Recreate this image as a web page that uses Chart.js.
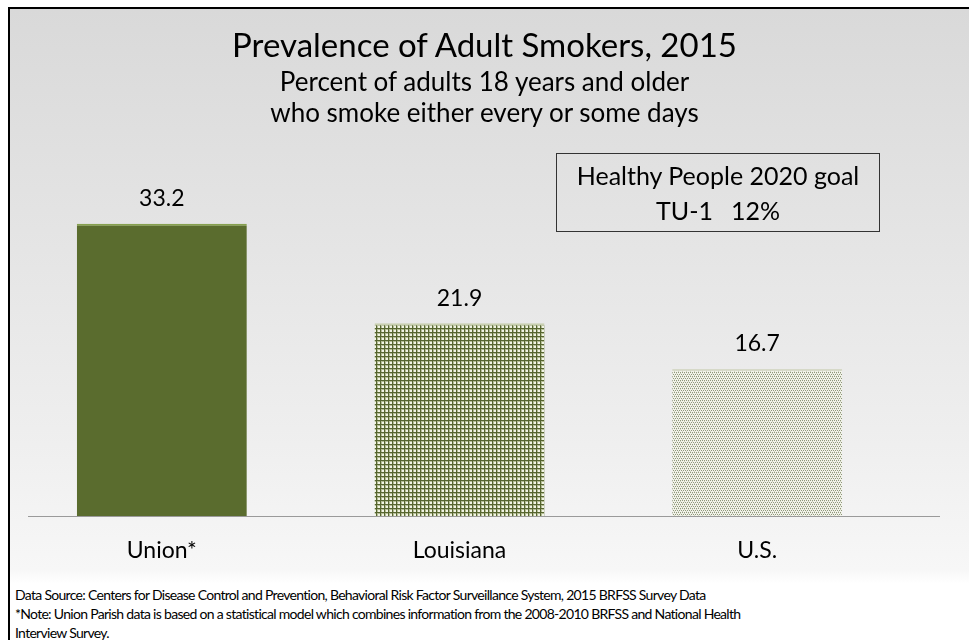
<!DOCTYPE html>
<html>
<head>
<meta charset="utf-8">
<script src="https://cdn.jsdelivr.net/npm/chart.js@4"></script>
<style>
    html, body { margin: 0; padding: 0; background: #ffffff; }
    body { width: 969px; height: 640px; position: relative; overflow: hidden; font-family: Lato, "Open Sans", sans-serif; color: #000; }
    #frame {
        position: absolute; left: 8px; top: 7px; width: 961px; height: 640px;
        border-left: 2px solid #000; border-top: 2px solid #000;
        background: linear-gradient(to bottom, #d9d9d9 0px, #eeeeee 420px, #f7f7f7 560px, #ffffff 575px, #ffffff 640px);
    }
    #chart_container { position: absolute; left: 0; top: 0; width: 969px; height: 570px; }
    .title { position: absolute; left: 0; width: 969px; text-align: center; white-space: nowrap; line-height: 1.2; }
    #title { top: 25px; font-size: 33px; }
    #sub1 { top: 66px; font-size: 26px; }
    #sub2 { top: 97px; font-size: 26px; }
    #goal_box {
        position: absolute; left: 556px; top: 153px; width: 322px;
        border: 1px solid #333; text-align: center; font-size: 25px; line-height: 35px;
        box-sizing: content-box; padding-top: 4px; height: 73px;
    }
    #goal_box .pct { margin-left: 18px; }
    #notes { position: absolute; left: 15px; top: 585px; font-size: 14px; letter-spacing: -0.7px; line-height: 19px; width: 945px; white-space: nowrap; }
</style>
</head>
<body>
<div id="frame"></div>
<div id="chart_container"><canvas id="chart_canvas" width="969" height="570"></canvas></div>
<div class="title" id="title">Prevalence of Adult Smokers, 2015</div>
<div class="title" id="sub1">Percent of adults 18 years and older</div>
<div class="title" id="sub2">who smoke either every or some days</div>
<div id="goal_box">Healthy People 2020 goal<br>TU-1<span class="pct">12%</span></div>
<div id="notes">Data Source: Centers for Disease Control and Prevention, Behavioral Risk Factor Surveillance System, 2015 BRFSS Survey Data<br>*Note: Union Parish data is based on a statistical model which combines information from the 2008-2010 BRFSS and National Health<br>Interview Survey.</div>
<script>
var areas = ["Union*", "Louisiana", "U.S."];
var smokerPercent = [33.2, 21.9, 16.7];

// small tiled fills for the state and national bars
function makePattern(size, bg, draw) {
    var tile = document.createElement("canvas");
    tile.width = size;
    tile.height = size;
    var c = tile.getContext("2d");
    c.fillStyle = bg;
    c.fillRect(0, 0, size, size);
    draw(c);
    return c.createPattern(tile, "repeat");
}

var canvas = document.getElementById("chart_canvas");
var ctx = canvas.getContext("2d");

var gridPattern = makePattern(4, "#f1f4e4", function (c) {
    c.fillStyle = "#b4bd95";
    c.fillRect(1, 0, 1, 4);
    c.fillRect(0, 1, 4, 1);
    c.fillStyle = "#56652f";
    c.fillRect(0, 0, 1, 4);
    c.fillRect(0, 0, 4, 1);
});

var dotPattern = makePattern(4, "#f2f3ea", function (c) {
    c.fillStyle = "#8f977b";
    c.fillRect(0, 0, 1, 1);
    c.fillRect(2, 0, 1, 1);
    c.fillRect(1, 2, 1, 1);
    c.fillRect(3, 2, 1, 1);
    c.fillStyle = "#cfd3c0";
    c.fillRect(0, 1, 1, 1);
    c.fillRect(2, 3, 1, 1);
});

var valueLabels = {
    id: "valueLabels",
    afterDatasetsDraw: function (chart) {
        var c = chart.ctx;
        var meta = chart.getDatasetMeta(0);
        c.save();
        c.font = "23px Lato, 'Open Sans', sans-serif";
        c.fillStyle = "#000";
        c.textAlign = "center";
        c.textBaseline = "middle";
        meta.data.forEach(function (bar, i) {
            c.fillText(smokerPercent[i].toFixed(1), bar.x, bar.y - 25);
        });
        c.restore();
    }
};

var baseLine = {
    id: "baseLine",
    afterDatasetsDraw: function (chart) {
        var c = chart.ctx;
        var y = Math.round(chart.scales.y.getPixelForValue(0)) + 0.5;
        c.save();
        c.strokeStyle = "#9a9a9a";
        c.lineWidth = 1;
        c.beginPath();
        c.moveTo(28, y);
        c.lineTo(940, y);
        c.stroke();
        c.restore();
    }
};

var graph = new Chart(ctx, {
    type: "bar",
    data: {
        labels: areas,
        datasets: [{
            data: smokerPercent,
            backgroundColor: ["#5a6c2e", gridPattern, dotPattern],
            borderColor: ["#86a04e", "#c8cfb0", "#d6d9c8"],
            borderWidth: { top: 2, left: 0, right: 0, bottom: 0 },
            borderSkipped: "bottom",
            barPercentage: 1,
            categoryPercentage: 0.571
        }]
    },
    options: {
        responsive: false,
        maintainAspectRatio: false,
        animation: false,
        layout: { padding: { top: 164, left: 13, right: 63, bottom: 0 } },
        scales: {
            x: {
                grid: { display: false },
                border: { display: false },
                ticks: {
                    color: "#000",
                    padding: 13,
                    font: { family: "Lato, 'Open Sans', sans-serif", size: 23 }
                },
                afterFit: function (scale) { scale.height = 54; }
            },
            y: {
                display: false,
                min: 0,
                max: 40
            }
        },
        plugins: {
            legend: { display: false },
            tooltip: { enabled: false }
        }
    },
    plugins: [valueLabels, baseLine]
});
</script>
</body>
</html>
